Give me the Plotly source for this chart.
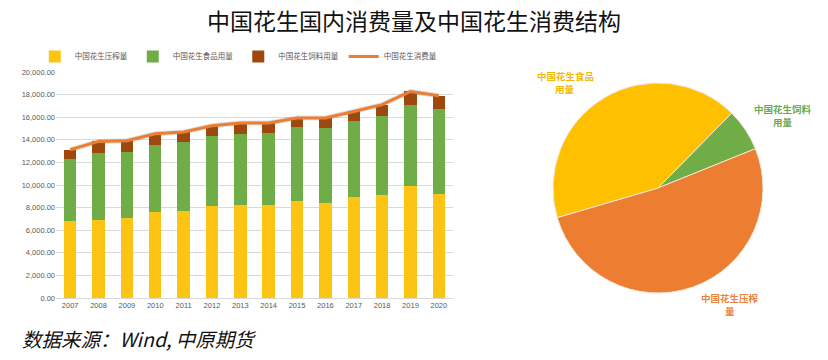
import plotly.graph_objects as go

years = ["2007", "2008", "2009", "2010", "2011", "2012", "2013",
         "2014", "2015", "2016", "2017", "2018", "2019", "2020"]
crush = [6780, 6930, 7050, 7580, 7700, 8110, 8260, 8200, 8610, 8430, 8970, 9140, 9910, 9230]
food = [5550, 5870, 5900, 5990, 6110, 6190, 6280, 6400, 6490, 6620, 6660, 6930, 7200, 7500]
feed = [790, 1060, 970, 970, 880, 950, 950, 890, 830, 880, 880, 1040, 1170, 1170]
total = [c + f + d for c, f, d in zip(crush, food, feed)]

names = ["中国花生压榨量", "中国花生食品用量", "中国花生饲料用量", "中国花生消费量"]
pie_labels = ["中国花生饲料用量", "中国花生压榨量", "中国花生食品用量"]
pie_label_lines = [["中国花生饲料", "用量"], ["中国花生压榨", "量"], ["中国花生食品", "用量"]]
pie_values = [feed[-1], crush[-1], food[-1]]

C_YEL = "#FFC000"
C_GRN = "#70AD47"
C_BRN = "#9E480E"
C_ORG = "#ED7D31"
FONT = "Noto Sans CJK SC"
TICKFONT = dict(size=7.5, color="#595959", family="Liberation Sans")

fig = go.Figure()
fig.add_trace(go.Bar(x=years, y=crush, name=names[0], marker=dict(color="#FDC414", line=dict(width=0))))
fig.add_trace(go.Bar(x=years, y=food, name=names[1], marker=dict(color=C_GRN, line=dict(width=0))))
fig.add_trace(go.Bar(x=years, y=feed, name=names[2], marker=dict(color=C_BRN, line=dict(width=0))))
# soft shadow under the line
fig.add_trace(go.Scatter(x=years, y=total, mode="lines", line=dict(color="rgba(120,120,120,0.22)", width=5),
                         hoverinfo="skip", showlegend=False))
fig.add_trace(go.Scatter(x=years, y=total, mode="lines", name=names[3], line=dict(color=C_ORG, width=3)))

cx, cy, r = 658, 188, 105
fig.add_trace(go.Pie(labels=pie_labels, values=pie_values, sort=False, direction="clockwise",
                     rotation=44.5, textinfo="none", showlegend=False,
                     marker=dict(colors=[C_GRN, C_ORG, C_YEL], line=dict(color="#F2E6D8", width=1)),
                     domain=dict(x=[(cx - r) / 828, (cx + r) / 828],
                                 y=[(360 - cy - r) / 360, (360 - cy + r) / 360])))

fig.update_layout(
    width=828, height=360, margin=dict(l=0, r=0, t=0, b=0),
    paper_bgcolor="white", plot_bgcolor="white",
    barmode="stack", bargap=0.56,
    font=dict(family=FONT, color="#595959", size=8),
    title=dict(text="中国花生国内消费量及中国花生消费结构", x=0.5, xanchor="center", y=0.94, yanchor="middle",
               font=dict(family=FONT, size=23, color="#111111", weight="normal")),
    legend=dict(orientation="h", x=0.042, y=0.843, xanchor="left", yanchor="middle",
                font=dict(size=7.5, color="#595959"), itemwidth=30, traceorder="normal",
                bgcolor="rgba(0,0,0,0)"),
    xaxis=dict(domain=[56 / 828, 453 / 828], showgrid=False, showline=True, linecolor="#D9D9D9",
               automargin=False, ticks="", tickfont=TICKFONT),
    yaxis=dict(domain=[(360 - 298) / 360, (360 - 72) / 360], range=[0, 20000], dtick=2000,
               automargin=False, tickformat=",.2f", gridcolor="#D9D9D9", gridwidth=1, zeroline=False,
               tickfont=TICKFONT, ticks=""),
)

label_pos = [
    (783, 109, 122, "#6AA84F"),
    (730, 298, 311, "#E8833A"),
    (565, 76, 89, "#F5B800"),
]
for lines, (x, y1, y2, col) in zip(pie_label_lines, label_pos):
    for txt, yy in zip(lines, (y1, y2)):
        fig.add_annotation(text=txt, x=x / 828, y=(360 - yy) / 360, xref="paper", yref="paper",
                           showarrow=False, xanchor="center", yanchor="middle", align="center",
                           font=dict(size=9.5, color=col, family=FONT, weight="bold"))

fig.add_annotation(text="数据来源：Wind, 中原期货", x=20 / 828, y=(360 - 338) / 360, xref="paper", yref="paper",
                   showarrow=False, xanchor="left", yanchor="middle",
                   font=dict(size=19.5, color="#111111", family=FONT, style="italic"))

fig.write_html("out.html", config={"displayModeBar": False},
               post_script="document.body.style.margin='0';")
